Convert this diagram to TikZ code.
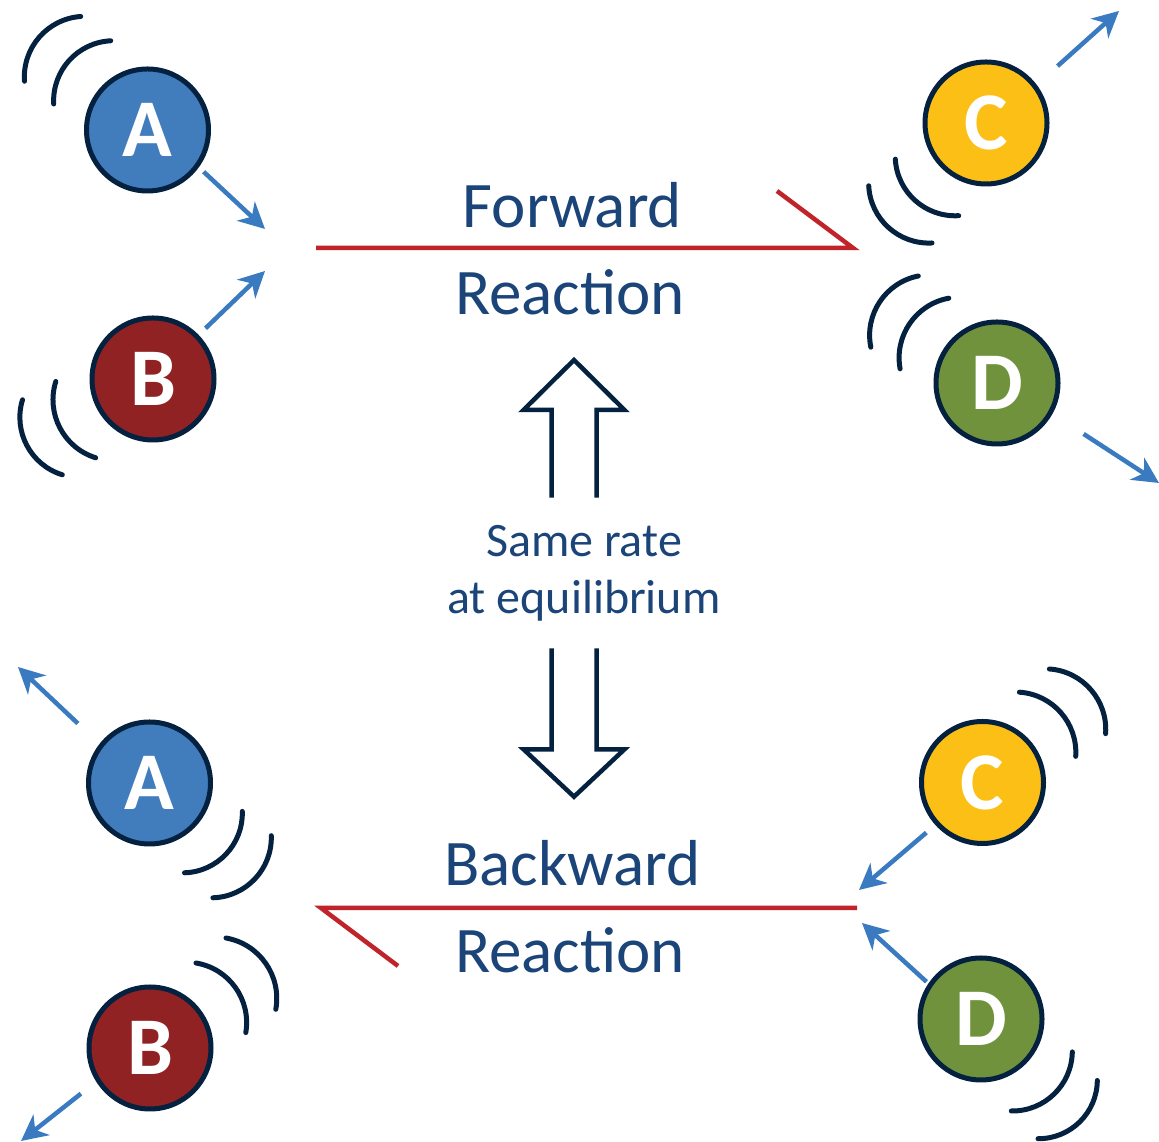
\documentclass[tikz,border=0pt]{standalone}
\usepackage{fontspec}
\setmainfont{Carlito}
\usetikzlibrary{arrows.meta}

\definecolor{navy}{HTML}{04213F}
\definecolor{afill}{HTML}{417CBD}
\definecolor{bfill}{HTML}{912224}
\definecolor{cfill}{HTML}{FBBF16}
\definecolor{dfill}{HTML}{71923D}
\definecolor{arrowblue}{HTML}{3A7AC0}
\definecolor{rxnred}{HTML}{C1232B}
\definecolor{textblue}{HTML}{1B4479}

\begin{document}
\begin{tikzpicture}[x=1pt,y=1pt,
  particle/.style={circle, draw=navy, line width=5pt, minimum size=122pt,
    inner sep=0pt, text=white, font=\fontsize{82}{82}\selectfont\bfseries},
  wave/.style={draw=navy, line width=5pt, line cap=round},
  motion/.style={draw=arrowblue, line width=4.5pt,
    -{Stealth[length=26pt,width=26pt,inset=8pt]}},
  rxn/.style={draw=rxnred, line width=4.5pt},
  rxntext/.style={text=textblue, font=\fontsize{65}{78}\selectfont,
    anchor=base, inner sep=0pt},
  note/.style={text=textblue, font=\fontsize{48}{58}\selectfont,
    anchor=base, inner sep=0pt},
  blockarrow/.style={draw=navy, line width=4.5pt, line join=miter}
]
\useasboundingbox (0,0) rectangle (1159,1142);

% ---------- forward reaction: reactants A, B and products C, D ----------
\node[particle, fill=afill] (A1) at (147.5,1012) {A};
\node[particle, fill=bfill] (B1) at (153,763) {B};
\node[particle, fill=cfill] (C1) at (986,1019) {C};
\node[particle, fill=dfill] (D1) at (997,759) {D};

% ---------- backward reaction ----------
\node[particle, fill=afill] (A2) at (149.5,359) {A};
\node[particle, fill=bfill] (B2) at (150,94) {B};
\node[particle, fill=cfill] (C2) at (982.5,359.5) {C};
\node[particle, fill=dfill] (D2) at (981,123) {D};

% motion lines around the particles
\draw[wave] (24.5,1060.7) to[bend left=45] (80.7,1125.5);
\draw[wave] (53.7,1038) to[bend left=45] (110.7,1101.2);
\draw[wave] (22.5,742.2) to[bend right=45] (62.3,667.2);
\draw[wave] (55.8,760.5) to[bend right=45] (95.7,684.2);
\draw[wave] (868.7,956.2) to[bend right=45] (932,899);
\draw[wave] (895.3,982.8) to[bend right=45] (958.7,926.3);
\draw[wave] (870.8,794.8) to[bend left=45] (918.3,866);
\draw[wave] (900.1,773.2) to[bend left=45] (948.8,843.8);

\draw[wave] (184.5,269.2) to[bend right=45] (242.3,330.6);
\draw[wave] (212.9,244.2) to[bend right=45] (271.3,306.3);
\draw[wave] (196,179) to[bend left=45] (245.8,109.4);
\draw[wave] (226,204) to[bend left=45] (275.8,132.7);
\draw[wave] (1019.4,449.8) to[bend left=45] (1075.7,385.6);
\draw[wave] (1049.4,473) to[bend left=45] (1105.6,408.3);
\draw[wave] (1011.3,31) to[bend right=45] (1072.3,90.1);
\draw[wave] (1038,3.3) to[bend right=45] (1097.3,61.5);

% direction of motion
\coordinate (a1tip) at (265,913);
\coordinate (b1tip) at (265,871);
\coordinate (c1tip) at (1119,1131);
\coordinate (d1tip) at (1159,659);
\coordinate (a2tip) at (18,475);
\coordinate (b2tip) at (21,1);
\coordinate (c2tip) at (859,252);
\coordinate (d2tip) at (862,219);

\draw[motion, shorten <=6.5pt] (A1.-36) -- (a1tip);
\draw[motion, shorten <=9.5pt] (B1.44.4) -- (b1tip);
\draw[motion, shorten <=28pt] (C1.37) -- (c1tip);
\draw[motion, shorten <=37pt] (D1.-29.9) -- (d1tip);
\draw[motion, shorten <=29.7pt] (A2.142.2) -- (a2tip);
\draw[motion, shorten <=19.4pt] (B2.212.2) -- (b2tip);
\draw[motion, shorten <=11.8pt] (C2.222.3) -- (c2tip);
\draw[motion, shorten <=2.5pt] (D2.146.8) -- (d2tip);

% reaction half-arrows
\coordinate (fwdL) at (316,894);
\coordinate (fwdR) at (853,894);
\coordinate (fwdBarb) at (777,951);
\draw[rxn] (fwdL) -- (fwdR) -- (fwdBarb);

\coordinate (bwdL) at (321,234);
\coordinate (bwdR) at (857,234);
\coordinate (bwdBarb) at (398,176);
\draw[rxn] (bwdR) -- (bwdL) -- (bwdBarb);

% labels
\node[rxntext] (fwd) at (572.5,914) {Forward};
\node[rxntext] (fwdr) at (570,827) {Reaction};
\node[rxntext] (bwd) at (572.5,256) {Backward};
\node[rxntext] (bwdr) at (570,169) {Reaction};
\node[note] (same) at (584,585) {Same rate};
\node[note] (equil) at (584,528) {at equilibrium};

% outlined block arrows
\draw[blockarrow] (551.5,644.3) -- (551.5,732) -- (523.5,732) -- (574,782)
  -- (624.5,732) -- (596.5,732) -- (596.5,644.3);
\draw[blockarrow] (551.5,493.7) -- (551.5,392.7) -- (523.5,392.7) -- (574,345.3)
  -- (624.5,392.7) -- (596.5,392.7) -- (596.5,493.7);
\end{tikzpicture}
\end{document}
